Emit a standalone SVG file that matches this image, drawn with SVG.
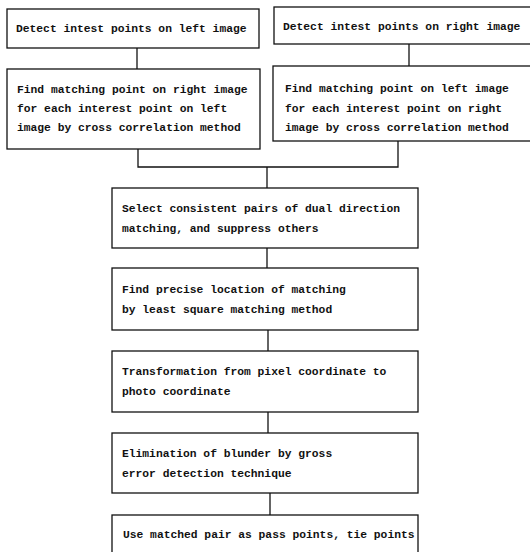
<svg xmlns="http://www.w3.org/2000/svg" width="530" height="552" viewBox="0 0 530 552">
<style>
.box{fill:#fff;stroke:#111;stroke-width:1.3}
.ln{fill:none;stroke:#111;stroke-width:1.3}
text{font-family:"Liberation Mono","DejaVu Sans Mono",monospace;font-size:11.3px;font-weight:bold;fill:#111}
</style>
<rect width="530" height="552" fill="#fff"/>
<g id="connectors">
<path class="ln" d="M137,48 V69"/>
<path class="ln" d="M409,44 V66"/>
<path class="ln" d="M138,149 V167 H398 V141"/>
<path class="ln" d="M267,167 V188"/>
<path class="ln" d="M267,248 V268"/>
<path class="ln" d="M268,330 V351"/>
<path class="ln" d="M268,412 V433"/>
<path class="ln" d="M270,493 V515"/>
</g>
<g id="n1"><rect class="box" x="7" y="9" width="252" height="39"/><text x="16" y="32">Detect intest points on left image</text></g>
<g id="n2"><rect class="box" x="274" y="7" width="262" height="37"/><text x="283" y="30">Detect intest points on right image</text></g>
<g id="n3"><rect class="box" x="7" y="69" width="253" height="80"/><text x="17" y="93">Find matching point on right image</text><text x="17" y="112">for each interest point  on left</text><text x="17" y="131">image by cross correlation method</text></g>
<g id="n4"><rect class="box" x="273" y="66" width="263" height="75"/><text x="285" y="92">Find matching point on left image</text><text x="285" y="112">for each interest point on right</text><text x="285" y="131">image by cross correlation method</text></g>
<g id="n5"><rect class="box" x="112" y="188" width="306" height="60"/><text x="122" y="212">Select consistent pairs of dual direction</text><text x="122" y="232">matching, and suppress others</text></g>
<g id="n6"><rect class="box" x="112" y="268" width="306" height="62"/><text x="122" y="293">Find precise location of matching</text><text x="122" y="313">by least square matching method</text></g>
<g id="n7"><rect class="box" x="112" y="351" width="306" height="61"/><text x="122" y="375">Transformation from pixel coordinate to</text><text x="122" y="395">photo coordinate</text></g>
<g id="n8"><rect class="box" x="112" y="433" width="306" height="60"/><text x="122" y="457">Elimination of blunder by gross</text><text x="122" y="477">error detection technique</text></g>
<g id="n9"><rect class="box" x="112" y="515" width="306" height="50"/><text x="123" y="538">Use matched pair as pass points, tie points</text></g>
</svg>
